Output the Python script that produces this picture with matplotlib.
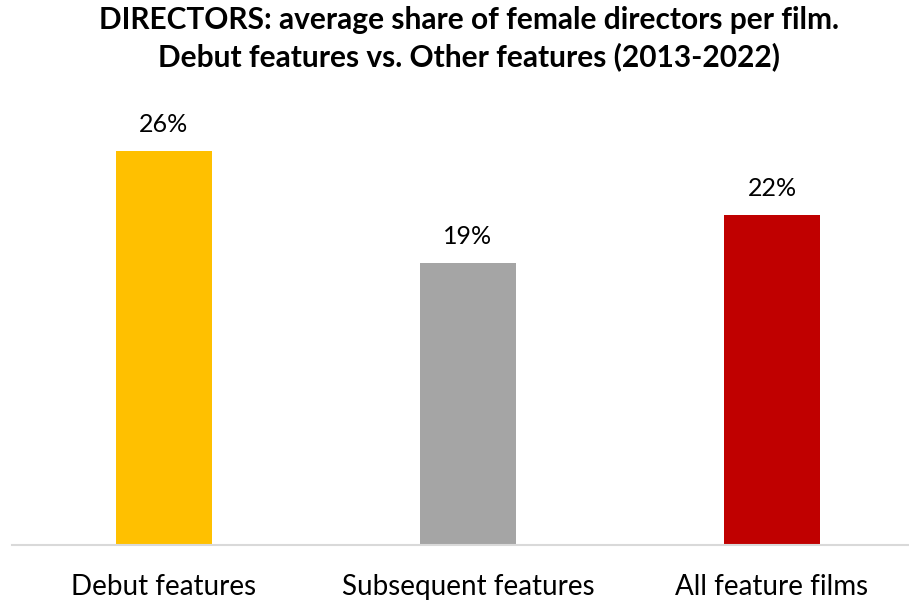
import matplotlib.pyplot as plt

categories = ["Debut features", "Subsequent features", "All feature films"]
shares = [0.26, 0.186, 0.218]
colors = ["#FFC000", "#A5A5A5", "#C00000"]

plt.rcParams['font.family'] = ['Lato', 'DejaVu Sans']

fig = plt.figure(figsize=(9.09, 6.01), dpi=100)
# axes spans from x=12px past the right edge, baseline at y=545px
ax = fig.add_axes([12 / 909, 1 - 545 / 601, 912 / 909, 445 / 601])

x = range(len(categories))
ax.bar(x, shares, width=0.316, color=colors)
for i, v in enumerate(shares):
    ax.annotate("{:.0%}".format(v), (i, v), xytext=(0, 11), textcoords="offset points",
                ha="center", va="bottom", fontsize=18)

ax.set_xlim(-0.5, 2.5)
ax.set_ylim(0, 0.294)
ax.set_xticks(list(x))
ax.set_xticklabels(categories, fontsize=20)
ax.tick_params(axis="x", length=0, pad=21)
ax.set_yticks([])
for s in ["top", "left", "right"]:
    ax.spines[s].set_visible(False)
ax.spines["bottom"].set_color("#D9D9D9")
ax.spines["bottom"].set_linewidth(1.5)

fig.text(0.516, 0.99, "DIRECTORS: average share of female directors per film.\nDebut features vs. Other features (2013-2022)",
         ha="center", va="top", fontsize=21.5, fontweight="bold", linespacing=1.32)

fig.savefig("out.png", dpi=100)
